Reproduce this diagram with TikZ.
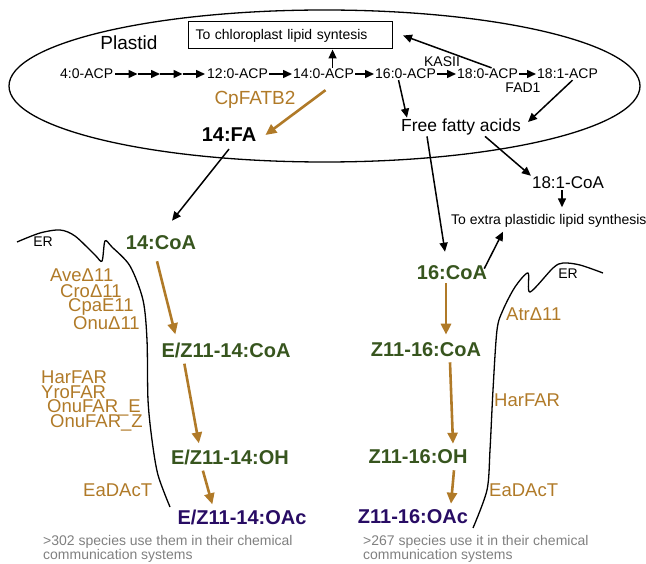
\documentclass[tikz,border=0pt]{standalone}
\usepackage{fontspec}
\setmainfont{Liberation Sans}
\usepackage{xcolor}
\usepackage{tikz}
\usetikzlibrary{positioning}
\usetikzlibrary{arrows.meta}

\definecolor{enzbrown}{RGB}{176,122,40}
\definecolor{molgreen}{RGB}{55,85,30}
\definecolor{pherpurple}{RGB}{40,12,100}
\definecolor{notegray}{RGB}{128,128,128}

\begin{document}
\begin{tikzpicture}[x=1pt, y=-1pt,
    acp/.style={font=\fontsize{14}{16}\selectfont, inner sep=1pt},
    enz/.style={anchor=west, inner sep=0pt, text=enzbrown, font=\fontsize{18.5}{20}\selectfont},
    mol/.style={inner sep=1pt, text=molgreen, font=\bfseries\fontsize{20}{22}\selectfont},
    pher/.style={mol, text=pherpurple},
    note/.style={anchor=north west, inner sep=0pt, text=notegray, align=left, font=\fontsize{14}{14.5}\selectfont},
    arr/.style={-{Triangle[length=9pt,width=8pt]}, line width=1.5pt},
    oarr/.style={-{Triangle[length=11pt,width=10pt]}, line width=2.6pt, draw=enzbrown},
    membrane/.style={line width=1.3pt}]
  \useasboundingbox (0,0) rectangle (646,564);

  % plastid
  \draw[membrane] (324.5,86) ellipse [x radius=315.5, y radius=76];
  \node[font=\fontsize{19}{21}\selectfont] (plastid) at (129,43) {Plastid};
  \node[draw, line width=1pt, anchor=west, minimum height=27pt, text width=190pt, inner xsep=7pt, align=left,
        font=\fontsize{14}{16}\selectfont] (chl) at (188,35.5) {To chloroplast lipid syntesis};

  % ACP chain
  \node[acp, anchor=west] (acp4) at (59,74) {4:0-ACP};
  \node[acp, anchor=west] (acp12) at (206,74) {12:0-ACP};
  \node[acp, anchor=west] (acp14) at (292,74) {14:0-ACP};
  \node[acp, anchor=west] (acp16) at (374,74) {16:0-ACP};
  \node[acp, anchor=west] (acp18a) at (456,74) {18:0-ACP};
  \node[acp, anchor=west] (acp18b) at (536,74) {18:1-ACP};
  \node[acp] (kas) at (442,62) {KASII};
  \node[acp] (fad) at (523,88) {FAD1};
  \foreach \i in {0,...,4} {
    \coordinate (ch\i) at (115+\i*22.5,74);
  }
  \foreach \i [evaluate=\i as \j using int(\i+1)] in {0,...,3} {
    \draw[arr] (ch\i) -- (ch\j);
  }
  \draw[arr] (acp12.east) -- (acp14.west);
  \draw[arr] (acp14.east) -- (acp16.west);
  \draw[arr] (acp16.east) -- (acp18a.west);
  \draw[arr] (acp18a.east) -- (acp18b.west);
  \draw[arr] ([xshift=9pt]acp14.north) -- ([xshift=9pt]acp14.north |- chl.south);
  \draw[arr] ([xshift=4pt]acp18a.north) -- ([xshift=10pt]chl.east);

  % free fatty acids
  \node[font=\fontsize{17.5}{19}\selectfont, inner sep=1pt] (ffa) at (461,127) {Free fatty acids};
  \node[acp, font=\fontsize{17}{19}\selectfont] (coa181) at (568,183) {18:1-CoA};
  \node[acp, anchor=west] (extra) at (450,221) {To extra plastidic lipid synthesis};
  \draw[arr] ([xshift=-7pt]acp16.south) -- ([xshift=-54pt]ffa.north);
  \draw[arr] ([xshift=5pt]acp18b.south) -- ([xshift=6pt,yshift=5pt]ffa.east);
  \draw[arr] ([xshift=24pt]ffa.south) -- (coa181.north west);
  \draw[arr] ([xshift=-6pt]coa181.south) -- ([xshift=-6pt,yshift=6pt]coa181.south |- extra.north);

  % 14 branch
  \node[mol, text=black] (fa14) at (229,135) {14:FA};
  \node[font=\fontsize{19}{21}\selectfont, text=enzbrown] (fatb) at (255,100) {CpFATB2};
  \node[mol] (coa14) at (161,243) {14:CoA};
  \node[mol] (ecoa) at (226,350) {E/Z11-14:CoA};
  \node[mol] (eoh) at (230,457) {E/Z11-14:OH};
  \node[pher] (eoac) at (242,517) {E/Z11-14:OAc};
  \draw[oarr] ([xshift=2pt,yshift=-10pt]acp14.south) -- ([xshift=8pt]fa14.east);
  \draw[arr] ([yshift=-6pt]fa14.south) -- ([xshift=11pt,yshift=14pt]coa14.north);
  \draw[oarr] ([xshift=-4pt,yshift=-10pt]coa14.south) -- ([xshift=15pt,yshift=7pt]ecoa.north west);
  \draw[oarr] ([xshift=24pt,yshift=-5pt]ecoa.south west) -- ([xshift=29pt,yshift=5pt]eoh.north west);
  \draw[oarr] ([xshift=33pt,yshift=-5pt]eoh.south west) -- ([xshift=36pt,yshift=4pt]eoac.north west);

  % 16 branch
  \node[mol] (coa16) at (452,273) {16:CoA};
  \node[mol] (zcoa) at (426,350) {Z11-16:CoA};
  \node[mol] (zoh) at (418,457) {Z11-16:OH};
  \node[pher] (zoac) at (413,517) {Z11-16:OAc};
  \draw[arr] ([xshift=-34pt]ffa.south) -- ([xshift=-7pt,yshift=13pt]coa16.north);
  \draw[arr] ([xshift=-4pt,yshift=-4pt]coa16.north east) -- ([xshift=53pt,yshift=-3pt]extra.south west);
  \draw[oarr] ([xshift=-6pt,yshift=-2pt]coa16.south) -- ([xshift=20pt,yshift=7pt]zcoa.north);
  \draw[oarr] ([xshift=24pt,yshift=-4pt]zcoa.south) -- ([xshift=35pt,yshift=5pt]zoh.north);
  \draw[oarr] ([xshift=36pt,yshift=-5pt]zoh.south) -- ([xshift=38pt,yshift=5pt]zoac.north);

  % ER membranes
  \draw[membrane] plot[smooth, tension=0.5] coordinates {(17,242) (40,233) (60,230) (75,236) (95,255) (102,261)
    (105,241) (112,247) (130,266) (143,300) (147,340) (148,400) (152,440) (158,475) (170,507)};
  \draw[membrane] plot[smooth, tension=0.5] coordinates {(473,528) (487,490) (490,450) (493,390) (497,330)
    (503,310) (515,287) (528,273) (530,292) (553,268) (563,263) (580,265) (603,273)};
  \node[acp] (erl) at (43,242) {ER};
  \node[acp] (err) at (568,274) {ER};

  % enzymes
  \node[enz] (ave) at (50,275) {AveΔ11};
  \node[enz] (cro) at (60,291) {CroΔ11};
  \node[enz] (cpa) at (68,307) {CpaE11};
  \node[enz] (onu) at (73,323) {OnuΔ11};
  \node[enz] (harl) at (41,377) {HarFAR};
  \node[enz] (yro) at (41,392) {YroFAR};
  \node[enz] (onue) at (47,408) {OnuFAR\_E};
  \node[enz] (onuz) at (50,423) {OnuFAR\_Z};
  \node[enz] (eal) at (83,490) {EaDAcT};
  \node[enz] (atr) at (506,314) {AtrΔ11};
  \node[enz] (harr) at (494,400) {HarFAR};
  \node[enz] (ear) at (489,490) {EaDAcT};

  % notes
  \node[note] (notel) at (43,535) {>302 species use them in their chemical\\communication systems};
  \node[note] (noter) at (363,535) {>267 species use it in their chemical\\communication systems};
\end{tikzpicture}
\end{document}
